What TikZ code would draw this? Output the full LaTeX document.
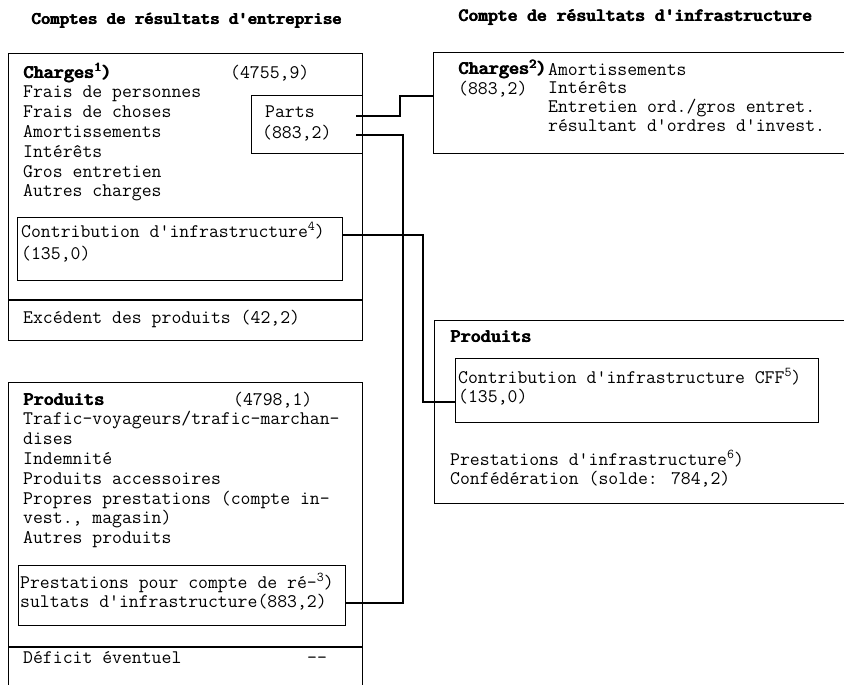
\documentclass[tikz,border=0pt]{standalone}
\usepackage{tikz}
\usetikzlibrary{positioning}
\usetikzlibrary{calc}

\tikzset{
  box/.style={draw, line width=1.3pt, inner sep=0pt, anchor=north west},
  txt/.style={font=\ttfamily\fontsize{19.2}{19.8}\selectfont, inner sep=0pt, anchor=base west, align=left},
  ttl/.style={inner sep=0pt, anchor=base west},
  wire/.style={line width=1.3pt},
  divline/.style={line width=1.3pt},
}
% footnote mark, raised
\newcommand{\fnmark}[1]{\raisebox{6.5pt}{\fontsize{13.5}{14}\selectfont #1}}
% heavier type, struck three times
\newcommand{\heavy}[1]{\rlap{#1}\kern0.5pt\rlap{#1}\kern0.5pt#1\kern-1pt}

\begin{document}
\begin{tikzpicture}[x=1pt, y=-1pt]
      \useasboundingbox (0,0) rectangle (844,685);
      % titles
      \node(ttlent) [ttl, font=\ttfamily\fontsize{17.9}{20}\selectfont] at (31,25) {\heavy{\textbf{Comptes de résultats d'entreprise}}};
      \node(ttlinf) [ttl, font=\ttfamily\fontsize{18.7}{20}\selectfont] at (458,22) {\heavy{\textbf{Compte de résultats d'infrastructure}}};

      % frames
      \node(chent) [box, minimum width=354pt, minimum height=287pt] at (8,53) {};
      \node(prent) [box, minimum width=354pt, minimum height=340pt] at (8,382) {};
      \node(chinf) [box, minimum width=420pt, minimum height=101pt] at (433,52) {};
      \node(prinf) [box, minimum width=420pt, minimum height=183pt] at (434,320) {};
      \node(parts) [box, minimum width=111pt, minimum height=58pt] at (251,95) {};
      \node(contrib) [box, minimum width=325pt, minimum height=63pt] at (17,217) {};
      \node(prest) [box, minimum width=327pt, minimum height=60pt] at (18,565) {};
      \node(cff) [box, minimum width=363pt, minimum height=64pt] at (455,358) {};
      \draw[divline] (chent.west |- 0,300) -- (chent.east |- 0,300);
      \draw[divline] (prent.west |- 0,647) -- (prent.east |- 0,647);

      % left, charges (anchored at the baseline of the last line)
      \node(chlist) [txt] at (23,196.8) {\heavy{\textbf{Charges\fnmark{1})}}\\Frais de personnes\\Frais de choses\\Amortissements\\Intérêts\\Gros entretien\\Autres charges};
      \node(chsum) [txt] at (230,78) {(4755,9)};
      \node(partslbl) [txt, font=\ttfamily\fontsize{19.2}{21}\selectfont] at (262,139) {\hspace{3pt}Parts\\(883,2)};
      \node(contriblbl) [txt, font=\ttfamily\fontsize{19.2}{22}\selectfont] at (21,259) {Contribution d'infrastructure\fnmark{4})\\(135,0)};
      \node(exc) [txt] at (23,323) {Excédent des produits (42,2)};

      % left, produits
      \node(prlist) [txt] at (23,543.6) {\heavy{\textbf{Produits}}\\Trafic-voyageurs/trafic-marchan-\\dises\\Indemnité\\Produits accessoires\\Propres prestations (compte in-\\vest., magasin)\\Autres produits};
      \node(prsum) [txt] at (233,405) {(4798,1)};
      \node(prestlbl) [txt] at (20,607.8) {Prestations pour compte de ré-\fnmark{3})\\sultats d'infrastructure(883,2)};
      \node(defic) [txt] at (23,663) {Déficit éventuel};
      \node(deficval) [txt] at (307,663) {-{}-};

      % right, charges
      \node(chinflbl) [txt, font=\ttfamily\fontsize{19.2}{20}\selectfont] at (458,95) {\heavy{\textbf{Charges\fnmark{2})}}\\(883,2)};
      \node(chinflist) [txt, font=\ttfamily\fontsize{19.2}{18.7}\selectfont] at (548,131.1) {Amortissements\\Intérêts\\Entretien ord./gros entret.\\résultant d'ordres d'invest.};

      % right, produits
      \node(prinflbl) [txt] at (450,342) {\heavy{\textbf{Produits}}};
      \node(cfflbl) [txt] at (458,402.8) {Contribution d'infrastructure CFF\fnmark{5})\\(135,0)};
      \node(prestinf) [txt] at (450,484.8) {Prestations d'infrastructure\fnmark{6})\\Confédération (solde: 784,2)};

      % connectors
      \coordinate(pa) at (356,116);
      \coordinate(pb) at (356,135);
      \coordinate(ka) at (400,96);
      \coordinate(kb) at (403,603);
      \coordinate(kc) at (423,402);
      \draw[wire] (pa) -| (ka) -- (ka -| chinf.west);
      \draw[wire] (pb) -| (kb) -- (kb -| prest.east);
      \draw[wire] (contrib.east |- 0,235) -| (kc) -- (kc -| cff.west);
\end{tikzpicture}
\end{document}
